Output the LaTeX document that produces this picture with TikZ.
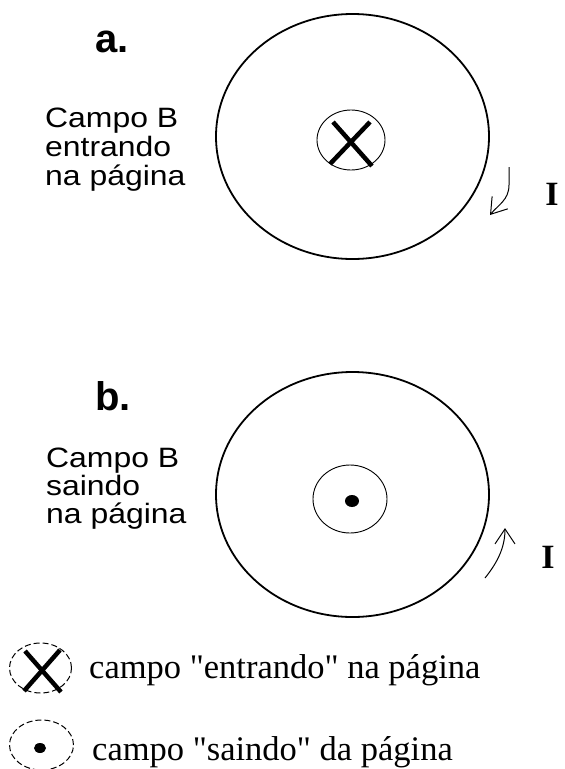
\documentclass[tikz,border=0pt]{standalone}
\usepackage{fontspec}
\newfontfamily\timesf{Liberation Serif}
\newfontfamily\arialf{Liberation Sans}
\usetikzlibrary{shapes.geometric,arrows.meta}
\newcommand{\sqz}[1]{\scalebox{1.14}[1]{#1}}
\tikzset{
 bigring/.style={draw, ellipse, line width=1.8pt, minimum width=273pt, minimum height=245pt, inner sep=0pt},
 smallring/.style={draw, ellipse, line width=0.9pt, inner sep=0pt},
 legring/.style={draw, ellipse, line width=1pt, dash pattern=on 6pt off 3pt, inner sep=0pt, minimum width=62pt, minimum height=50pt},
 crossline/.style={line width=4.5pt},
 curarrow/.style={line width=1pt, -{Straight Barb[length=15pt, width=20pt, line width=1pt]}},
 lab/.style={font=\arialf\fontsize{40}{40}\selectfont\bfseries, anchor=base west, inner sep=0pt},
 desc/.style={font=\arialf\fontsize{28}{29}\selectfont, anchor=base west, inner sep=0pt},
 curr/.style={font=\timesf\fontsize{34}{34}\selectfont\bfseries, anchor=base, inner sep=0pt},
 legtext/.style={font=\timesf\fontsize{34.5}{35}\selectfont, anchor=base west, inner sep=0pt},
}
\begin{document}
\begin{tikzpicture}[x=1pt,y=-1pt]
\path[use as bounding box, fill=white] (0,0) rectangle (565,769);

% ---- a ----
\node[lab] (la) at (95,52) {a.};
\node[desc] (da1) at (45,127) {\sqz{Campo B}};
\node[desc] (da2) at (45,156) {\sqz{entrando}};
\node[desc] (da3) at (45,185) {\sqz{na página}};
\node[bigring] (ra) at (352.5,136.5) {};
\node[smallring, minimum width=68pt, minimum height=60pt] (sa) at (351,140) {};
\draw[crossline] (333,122) -- (372,166);
\draw[crossline] (370,122) -- (330,164);
\coordinate (a1) at (509,167);
\coordinate (a2) at (490,215);
\draw[curarrow] (a1) -- (509,185) .. controls (509,200) and (498,205) .. (a2);
\node[curr] (ia) at (552,205) {I};

% ---- b ----
\node[lab] (lb) at (95,410) {b.};
\node[desc] (db1) at (46,467) {\sqz{Campo B}};
\node[desc] (db2) at (46,495) {\sqz{saindo}};
\node[desc] (db3) at (46,523) {\sqz{na página}};
\node[bigring] (rb) at (352.5,494.5) {};
\node[smallring, minimum width=74pt, minimum height=68pt] (sb) at (350,499) {};
\fill (352,501) ellipse (7pt and 6pt);
\coordinate (b1) at (485,578);
\coordinate (b2) at (505,528);
\draw[curarrow] (b1) .. controls (497,563) and (505,548) .. (b2);
\node[curr] (ib) at (548,568) {I};

% ---- legend ----
\node[legring] (lx) at (40.5,668) {};
\draw[crossline] (25,651) -- (61,692);
\draw[crossline] (60,650) -- (24,691);
\node[legtext] (tx) at (89,678) {campo "entrando" na página};
\node[legring, minimum width=64pt] (ld) at (41.5,745) {};
\fill (40,748) ellipse (6pt and 5pt);
\node[legtext] (td) at (92,760) {campo "saindo" da página};
\end{tikzpicture}
\end{document}
